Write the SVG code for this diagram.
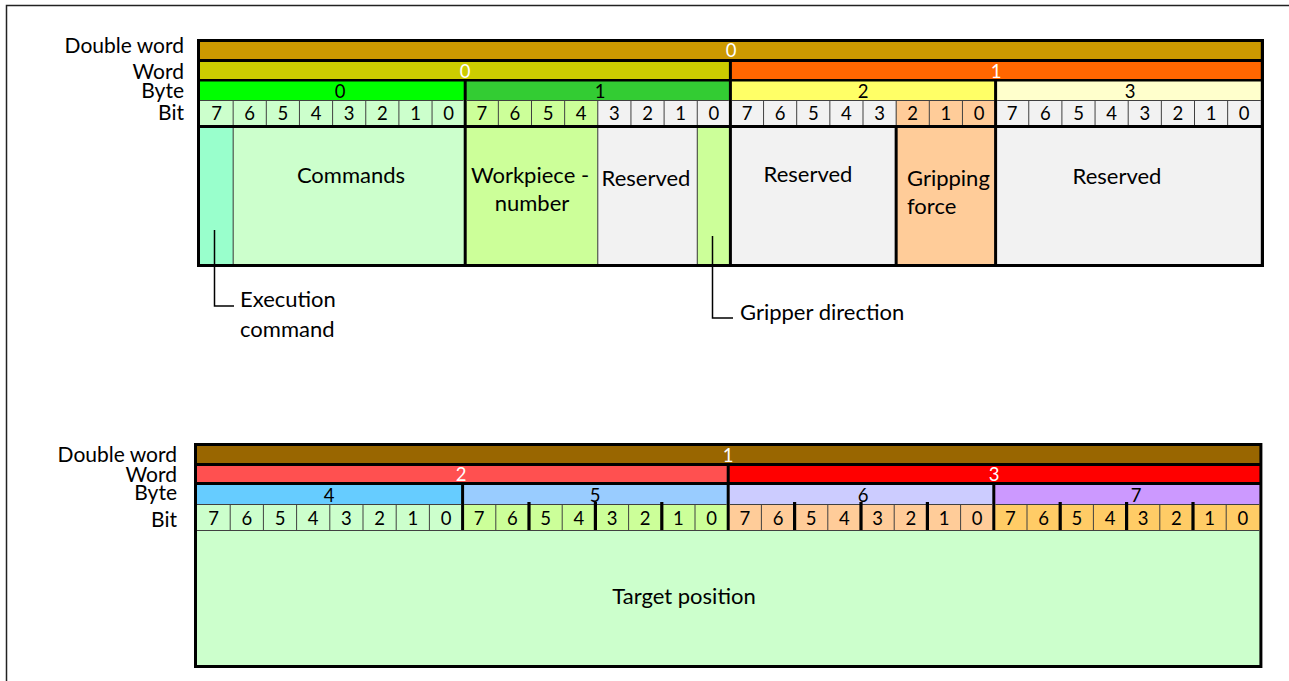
<svg xmlns="http://www.w3.org/2000/svg" width="1289" height="681" viewBox="0 0 1289 681">
<style>
text{font-family:Lato,"Open Sans","Noto Sans",sans-serif;fill:#000}
.lb{font-size:21px;text-anchor:end}
.tx{font-size:22px}
.c{text-anchor:middle}
.d{font-size:18.5px;text-anchor:middle}
.w{fill:#fff}
.thin{stroke:#404040;stroke-width:1;fill:none}
.lead{stroke:#000;stroke-width:1.5;fill:none}
</style>
<rect width="1289" height="681" fill="#fff"/>
<path d="M6.5 681V5.5H1289" stroke="#222" stroke-width="1.5" fill="none"/>

<g id="top-labels">
<text class="lb" x="184" y="53">Double word</text>
<text class="lb" x="184" y="79">Word</text>
<text class="lb" x="184" y="98">Byte</text>
<text class="lb" x="184" y="120">Bit</text>
</g>

<g id="top-table">
<rect x="197" y="39" width="1067" height="228" fill="#000"/>
<g id="dword0"><rect x="200" y="42" width="1060.8" height="17" fill="#CC9900"/><text class="d w" x="731" y="57">0</text></g>
<g id="word0"><rect x="200" y="62" width="528.9" height="17" fill="#CCCC00"/><text class="d w" x="465" y="78">0</text></g>
<g id="word1"><rect x="731.9" y="62" width="528.9" height="17" fill="#FF6600"/><text class="d w" x="996" y="78">1</text></g>
<g id="byte0"><rect x="200" y="81.5" width="263.7" height="18.5" fill="#00FF00"/><text class="d" x="340" y="98">0</text></g>
<g id="byte1"><rect x="466.7" y="81.5" width="262.2" height="18.5" fill="#33CC33"/><text class="d" x="600" y="98">1</text></g>
<g id="byte2"><rect x="731.9" y="81.5" width="262.2" height="18.5" fill="#FFFF66"/><text class="d" x="863" y="98">2</text></g>
<g id="byte3"><rect x="997.1" y="81.5" width="263.7" height="18.5" fill="#FFFFCC"/><text class="d" x="1130" y="98">3</text></g>
<g id="top-bits">
<rect x="200" y="100" width="263.7" height="25" fill="#CCFFCC"/>
<rect x="466.7" y="100" width="131.1" height="25" fill="#CCFF99"/>
<rect x="597.8" y="100" width="131.1" height="25" fill="#F2F2F2"/>
<rect x="731.9" y="100" width="164.25" height="25" fill="#F2F2F2"/>
<rect x="896.15" y="100" width="97.95" height="25" fill="#FFCC99"/>
<rect x="997.1" y="100" width="263.7" height="25" fill="#F2F2F2"/>
<path class="thin" d="M200 100.5H463.7M466.7 100.5H728.9M731.9 100.5H994.1M997.1 100.5H1260.8
M233.15 100V125M266.3 100V125M299.45 100V125M332.6 100V125M365.75 100V125M398.9 100V125M432.05 100V125
M498.35 100V125M531.5 100V125M564.65 100V125M597.8 100V125M630.95 100V125M664.1 100V125M697.25 100V125
M763.55 100V125M796.7 100V125M829.85 100V125M863 100V125M896.15 100V125M929.3 100V125M962.45 100V125
M1028.75 100V125M1061.9 100V125M1095.05 100V125M1128.2 100V125M1161.35 100V125M1194.5 100V125M1227.65 100V125"/>
<text class="d" x="216.6" y="120">7</text><text class="d" x="249.7" y="120">6</text><text class="d" x="282.9" y="120">5</text><text class="d" x="316" y="120">4</text><text class="d" x="349.2" y="120">3</text><text class="d" x="382.3" y="120">2</text><text class="d" x="415.5" y="120">1</text><text class="d" x="448.6" y="120">0</text>
<text class="d" x="481.8" y="120">7</text><text class="d" x="514.9" y="120">6</text><text class="d" x="548.1" y="120">5</text><text class="d" x="581.2" y="120">4</text><text class="d" x="614.4" y="120">3</text><text class="d" x="647.5" y="120">2</text><text class="d" x="680.7" y="120">1</text><text class="d" x="713.8" y="120">0</text>
<text class="d" x="747" y="120">7</text><text class="d" x="780.1" y="120">6</text><text class="d" x="813.3" y="120">5</text><text class="d" x="846.4" y="120">4</text><text class="d" x="879.6" y="120">3</text><text class="d" x="912.7" y="120">2</text><text class="d" x="945.9" y="120">1</text><text class="d" x="979" y="120">0</text>
<text class="d" x="1012.2" y="120">7</text><text class="d" x="1045.3" y="120">6</text><text class="d" x="1078.5" y="120">5</text><text class="d" x="1111.6" y="120">4</text><text class="d" x="1144.8" y="120">3</text><text class="d" x="1177.9" y="120">2</text><text class="d" x="1211.1" y="120">1</text><text class="d" x="1244.2" y="120">0</text>
</g>
<g id="execution-command"><rect x="200" y="128" width="33.15" height="136" fill="#99FFCC"/></g>
<g id="commands"><rect x="233.15" y="128" width="230.55" height="136" fill="#CCFFCC"/><text class="tx c" x="351" y="183">Commands</text></g>
<g id="workpiece-number"><rect x="466.7" y="128" width="131.1" height="136" fill="#CCFF99"/><text class="tx c" x="530" y="183">Workpiece -</text><text class="tx c" x="532" y="211">number</text></g>
<g id="reserved-1"><rect x="597.8" y="128" width="99.45" height="136" fill="#F2F2F2"/><text class="tx c" x="646" y="186">Reserved</text></g>
<g id="gripper-direction"><rect x="697.25" y="128" width="31.65" height="136" fill="#CCFF99"/></g>
<g id="reserved-2"><rect x="731.9" y="128" width="162.75" height="136" fill="#F2F2F2"/><text class="tx c" x="808" y="182">Reserved</text></g>
<g id="gripping-force"><rect x="897.65" y="128" width="96.45" height="136" fill="#FFCC99"/><text class="tx" x="907" y="186">Gripping</text><text class="tx" x="907" y="214">force</text></g>
<g id="reserved-3"><rect x="997.1" y="128" width="263.7" height="136" fill="#F2F2F2"/><text class="tx c" x="1117" y="184">Reserved</text></g>
<path class="thin" d="M233.15 128V264M597.8 128V264M697.25 128V264"/>
</g>

<g id="connectors">
<path class="lead" d="M214.5 230V306H234"/>
<path class="lead" d="M712.5 236V318H733"/>
</g>
<g id="exec-label"><text class="tx" x="240" y="307">Execution</text><text class="tx" x="240" y="337">command</text></g>
<g id="gripper-label"><text class="tx" x="740" y="320">Gripper direction</text></g>

<g id="bottom-labels">
<text class="lb" x="177" y="462">Double word</text>
<text class="lb" x="177" y="482">Word</text>
<text class="lb" x="177" y="500">Byte</text>
<text class="lb" x="177" y="527">Bit</text>
</g>

<g id="bottom-table">
<rect x="194" y="443" width="1068.4" height="225" fill="#000"/>
<g id="dword1"><rect x="197" y="446" width="1062.4" height="17" fill="#996600"/><text class="d w" x="728" y="462">1</text></g>
<g id="word2"><rect x="197" y="466" width="529.7" height="16" fill="#FF5050"/><text class="d w" x="461" y="481">2</text></g>
<g id="word3"><rect x="729.7" y="466" width="529.7" height="16" fill="#FF0000"/><text class="d w" x="994" y="481">3</text></g>
<g id="byte4"><rect x="197" y="485" width="264.1" height="19" fill="#66CCFF"/><text class="d" x="329" y="502">4</text></g>
<g id="byte5"><rect x="464.1" y="485" width="262.6" height="19" fill="#99CCFF"/><text class="d" x="595" y="502">5</text></g>
<g id="byte6"><rect x="729.7" y="485" width="262.6" height="19" fill="#CCCCFF"/><text class="d" x="863" y="502">6</text></g>
<g id="byte7"><rect x="995.3" y="485" width="264.1" height="19" fill="#CC99FF"/><text class="d" x="1136" y="502">7</text></g>
<g id="bottom-bits">
<rect x="197" y="504" width="264.1" height="26" fill="#CCFFCC"/>
<rect x="464.1" y="504" width="262.6" height="26" fill="#CCFF99"/>
<rect x="729.7" y="504" width="262.6" height="26" fill="#FFCC99"/>
<rect x="995.3" y="504" width="264.1" height="26" fill="#FFCC66"/>
<path class="thin" d="M197 504.5H461.1M464.1 504.5H726.7M729.7 504.5H992.3M995.3 504.5H1259.4
M230.2 504V530M263.4 504V530M296.6 504V530M329.8 504V530M363 504V530M396.2 504V530M429.4 504V530
M495.8 504V530M562.2 504V530M628.6 504V530M695 504V530
M761.4 504V530M827.8 504V530M894.2 504V530M960.6 504V530
M1027 504V530M1093.4 504V530M1159.8 504V530M1226.2 504V530"/>
<path d="M529 502V530M595.4 502V530M661.8 502V530M794.6 502V530M861 502V530M927.4 502V530M1060.2 502V530M1126.6 502V530M1193 502V530" stroke="#000" stroke-width="3.2"/>
<text class="d" x="213.6" y="525">7</text><text class="d" x="246.8" y="525">6</text><text class="d" x="280" y="525">5</text><text class="d" x="313.2" y="525">4</text><text class="d" x="346.4" y="525">3</text><text class="d" x="379.6" y="525">2</text><text class="d" x="412.8" y="525">1</text><text class="d" x="446" y="525">0</text>
<text class="d" x="479.2" y="525">7</text><text class="d" x="512.4" y="525">6</text><text class="d" x="545.6" y="525">5</text><text class="d" x="578.8" y="525">4</text><text class="d" x="612" y="525">3</text><text class="d" x="645.2" y="525">2</text><text class="d" x="678.4" y="525">1</text><text class="d" x="711.6" y="525">0</text>
<text class="d" x="744.8" y="525">7</text><text class="d" x="778" y="525">6</text><text class="d" x="811.2" y="525">5</text><text class="d" x="844.4" y="525">4</text><text class="d" x="877.6" y="525">3</text><text class="d" x="910.8" y="525">2</text><text class="d" x="944" y="525">1</text><text class="d" x="977.2" y="525">0</text>
<text class="d" x="1010.4" y="525">7</text><text class="d" x="1043.6" y="525">6</text><text class="d" x="1076.8" y="525">5</text><text class="d" x="1110" y="525">4</text><text class="d" x="1143.2" y="525">3</text><text class="d" x="1176.4" y="525">2</text><text class="d" x="1209.6" y="525">1</text><text class="d" x="1242.8" y="525">0</text>
</g>
<g id="target-position"><rect x="197" y="530" width="1062.4" height="135" fill="#CCFFCC"/><path class="thin" d="M197 530.5H1259.4"/><text class="tx c" x="684" y="604">Target position</text></g>
</g>
</svg>
